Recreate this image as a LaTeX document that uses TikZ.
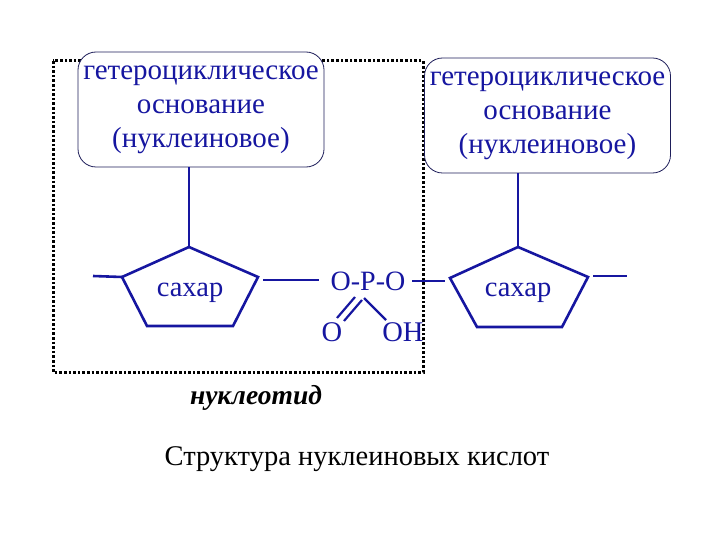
\documentclass[tikz,border=0pt]{standalone}
\usepackage{fontspec}
\setmainfont{Liberation Serif}
\definecolor{dblue}{RGB}{22,22,160}
\definecolor{bord}{RGB}{30,30,90}
\begin{document}
\begin{tikzpicture}[x=1pt,y=-1pt,
  basebox/.style={draw=bord,line width=0.8pt,rounded corners=18pt,text=dblue,
    font=\fontsize{29}{34}\selectfont,align=center,minimum width=246pt,minimum height=115pt,inner sep=0pt},
  bond/.style={draw=dblue,line width=2.6pt},
  thinbond/.style={draw=dblue,line width=1.3pt},
  chem/.style={text=dblue,font=\fontsize{28.5}{30}\selectfont,inner sep=0pt},
  frame/.style={draw=black,line width=3pt,dash pattern=on 2.6pt off 2pt}]
\useasboundingbox (0,0) rectangle (720,540);
% dotted nucleotide frame
\draw[frame] (53,61) rectangle (423,372);
% base boxes
\node[basebox,fill=white] (b1) at (201,109.5) {гетероциклическое\\основание\\(нуклеиновое)\vphantom{g}};
\node[basebox,fill=white] (b2) at (547.5,115.5) {гетероциклическое\\основание\\(нуклеиновое)\vphantom{g}};
% left sugar
\coordinate (p1t) at (189,247);
\coordinate (p1l) at (122,277);
\coordinate (p1r) at (258,277);
\coordinate (p1bl) at (147,326);
\coordinate (p1br) at (233,326);
\draw[bond,line join=miter] (p1t) -- (p1r) -- (p1br) -- (p1bl) -- (p1l) -- cycle;
\node[chem] (s1) at (190,293) {сахар};
% right sugar
\coordinate (p2t) at (518,247);
\coordinate (p2l) at (450,278);
\coordinate (p2r) at (588,277);
\coordinate (p2bl) at (477,327);
\coordinate (p2br) at (562,327);
\draw[bond,line join=miter] (p2t) -- (p2r) -- (p2br) -- (p2bl) -- (p2l) -- cycle;
\node[chem] (s2) at (518,293) {сахар};
% base-sugar links
\draw[thinbond] (b1.south -| p1t) -- (p1t);
\draw[thinbond] (b2.south -| p2t) -- (p2t);
% phosphate
\node[chem,font=\fontsize{28}{30}\selectfont] (opo) at (368,281) {O-P-O};
\node[chem] (o) at (332,332) {O};
\node[chem] (oh) at (403,332) {OH};
\coordinate (lst) at (93,276);
\coordinate (rst) at (627,276);
\coordinate (c1) at (263,280);
\coordinate (c2) at (319,280);
\coordinate (c3) at (412,281);
\coordinate (c4) at (445,281);
\draw[bond] (lst) -- (p1l);
\draw[bond] (c1) -- (c2);
\draw[bond] (c3) -- (c4);
\draw[bond] (593,276) -- (rst);
\draw[bond,line width=2.2pt] (355,297) -- (337,318);
\draw[bond,line width=2.2pt] (362,300) -- (344,321);
\draw[bond,line width=2.2pt] (364,298) -- (386,320);
% labels
\node[font=\fontsize{27.5}{30}\selectfont\bfseries\itshape,inner sep=0pt] (nt) at (256,398) {нуклеотид};
\node[font=\fontsize{28.5}{32}\selectfont,inner sep=0pt] (title) at (357,459) {Структура нуклеиновых кислот};
\end{tikzpicture}
\end{document}
